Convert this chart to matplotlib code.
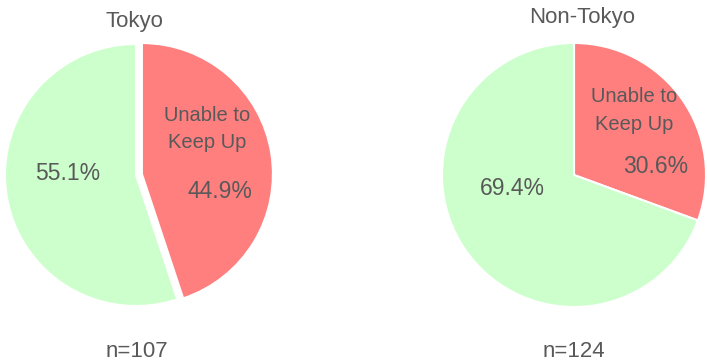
import matplotlib
matplotlib.use("Agg")
import matplotlib.pyplot as plt

# Share of respondents who feel unable to keep up, by region
regions = ["Tokyo", "Non-Tokyo"]
sample_sizes = [107, 124]
unable_pct = [44.9, 30.6]
other_pct = [55.1, 69.4]
segment_label = "Unable to\nKeep Up"

RED = "#FF7F7F"
GREEN = "#CCFFCC"
TEXT = "#595959"
W, H = 707, 363

plt.rcParams["font.family"] = ["Liberation Sans", "DejaVu Sans"]

fig = plt.figure(figsize=(W / 100, H / 100), dpi=100)
ax = fig.add_axes([0, 0, 1, 1])

# layout in pixel units (y measured from the top)
centers = [(136, 175), (574, 175)]
radii = [131, 132]
explode_red = [6, 0]
title_pos = [(134, 27), (582, 23)]
seg_pos = [((207, 121), (207, 148)), ((634, 102), (634, 130))]
red_pct_pos = [(220, 198), (656, 173)]
green_pct_pos = [(68, 180), (512, 195)]
n_pos = [(137, 357), (574, 357)]


def Y(y):
    return H - y


for i in range(len(regions)):
    cx, cy = centers[i]
    ax.pie([unable_pct[i], other_pct[i]], colors=[RED, GREEN],
           startangle=90, counterclock=False, center=(cx, Y(cy)),
           radius=radii[i], explode=[explode_red[i], 0],
           wedgeprops=dict(edgecolor="white", linewidth=1.5), frame=True)

    tx, ty = title_pos[i]
    ax.text(tx, Y(ty), regions[i], ha="center", va="baseline",
            fontsize=16, color=TEXT)

    for (lx, ly), line in zip(seg_pos[i], segment_label.split("\n")):
        ax.text(lx, Y(ly), line, ha="center", va="baseline", fontsize=14.5,
                color=TEXT)

    px, py = red_pct_pos[i]
    ax.text(px, Y(py), f"{unable_pct[i]:.1f}%", ha="center", va="baseline",
            fontsize=16.5, color=TEXT)
    gx, gy = green_pct_pos[i]
    ax.text(gx, Y(gy), f"{other_pct[i]:.1f}%", ha="center", va="baseline",
            fontsize=16.5, color=TEXT)

    nx, ny = n_pos[i]
    ax.text(nx, Y(ny), f"n={sample_sizes[i]}", ha="center", va="baseline",
            fontsize=16, color=TEXT)

ax.set_xlim(0, W)
ax.set_ylim(0, H)
ax.set_aspect("equal")
ax.axis("off")

fig.savefig("out.png", dpi=100, facecolor="white")
